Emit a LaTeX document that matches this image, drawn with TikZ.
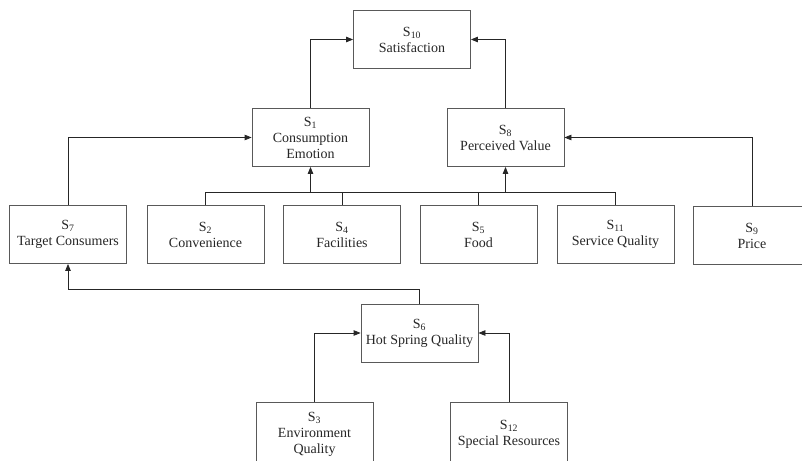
\documentclass[tikz,border=0pt]{standalone}
\usepackage{fontspec}
\setmainfont{Liberation Serif}
\usetikzlibrary{arrows.meta}
\begin{document}
\begin{tikzpicture}[x=1pt,y=-1pt,
  box/.style={draw=black!65,line width=0.8pt,minimum width=117pt,minimum height=58pt,
    align=center,inner sep=1pt,text=black!85,font=\fontsize{14}{16}\selectfont},
  conn/.style={draw=black!85,line width=0.8pt},
  arr/.style={conn,-{Triangle[length=7pt,width=5.5pt]}}]
\useasboundingbox (0,0) rectangle (802,460);
\clip (0,0) rectangle (802,460);
\node[box] (S10) at (412,39.5) {S\textsubscript{10}\\Satisfaction};
\node[box] (S1) at (310.5,137.5) {S\textsubscript{1}\\Consumption\\Emotion};
\node[box] (S8) at (505.5,137.5) {S\textsubscript{8}\\Perceived Value};
\node[box] (S7) at (68,234.5) {S\textsubscript{7}\\Target Consumers};
\node[box] (S2) at (205.5,234.5) {S\textsubscript{2}\\Convenience};
\node[box] (S4) at (342,234.5) {S\textsubscript{4}\\Facilities};
\node[box] (S5) at (478.5,234.5) {S\textsubscript{5}\\Food};
\node[box] (S11) at (615.5,234.5) {S\textsubscript{11}\\Service Quality};
\node[box] (S9) at (752,235.5) {S\textsubscript{9}\\Price};
\node[box] (S6) at (419.5,333) {S\textsubscript{6}\\Hot Spring Quality};
\node[box,minimum height=64pt] (S3) at (314.5,434) {S\textsubscript{3}\\Environment\\Quality};
\node[box,minimum height=64pt] (S12) at (509,434) {S\textsubscript{12}\\Special Resources};
\coordinate (bus) at (0,192);
\coordinate (low) at (0,289);
% to satisfaction
\draw[arr] (S1.north) |- (S10.west);
\draw[arr] (S8.north) |- (S10.east);
% side inputs
\draw[arr] (S7.north) |- (S1.west);
\draw[arr] (S9.north) |- (S8.east);
% bus
\draw[conn] (S2.north) |- (bus -| S11.north) -- (S11.north);
\draw[conn] (S4.north) -- (S4.north |- bus);
\draw[conn] (S5.north) -- (S5.north |- bus);
\draw[arr] (S1.south |- bus) -- (S1.south);
\draw[arr] (S8.south |- bus) -- (S8.south);
% hot spring
\draw[arr] (S6.north) |- (low -| S7.south) -- (S7.south);
\draw[arr] (S3.north) |- (S6.west);
\draw[arr] (S12.north) |- (S6.east);
\end{tikzpicture}
\end{document}
